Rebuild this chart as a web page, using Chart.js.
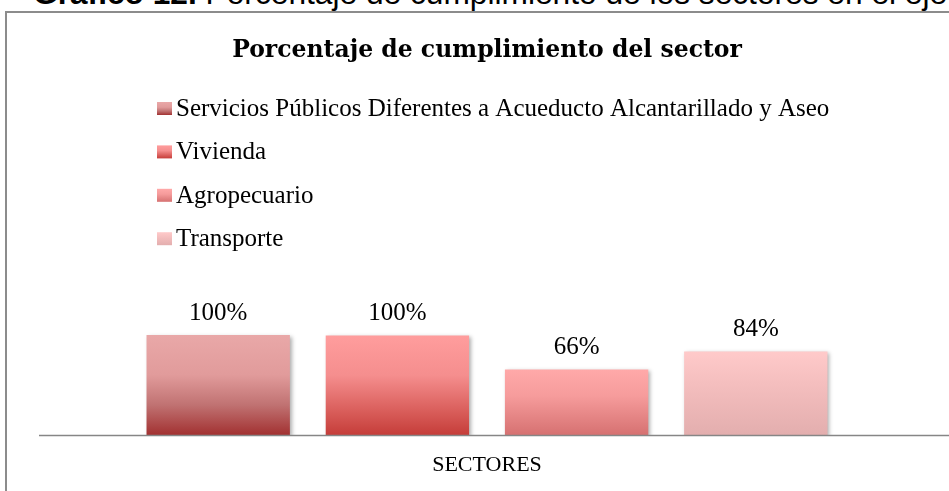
<!DOCTYPE html>
<html>
<head>
<meta charset="utf-8">
<script src="https://cdn.jsdelivr.net/npm/chart.js@4/dist/chart.umd.min.js"></script>
<style>
  html, body { margin: 0; padding: 0; background: #ffffff; }
  body { width: 949px; height: 491px; position: relative; overflow: hidden; }
  #caption { position: absolute; left: 33px; top: -22px; font-family: "Liberation Sans", Arial, sans-serif; font-size: 31.7px; line-height: 31px; color: #000; white-space: nowrap; }
  #caption b { font-weight: bold; }
  #frame { position: absolute; left: 5px; top: 11px; width: 1000px; height: 600px; border: 2px solid #8c8c8c; box-sizing: border-box; }
  #c { position: absolute; left: 0; top: 0; }
</style>
</head>
<body>
<div id="caption"><b>Gráfico 12.</b> Porcentaje de cumplimiento de los sectores en el eje</div>
<div id="frame"></div>
<canvas id="c" width="949" height="496"></canvas>
<script>
// ---- data ----
const categories = ['SECTORES'];
const seriesNames = [
  'Servicios Públicos Diferentes a Acueducto Alcantarillado y Aseo',
  'Vivienda',
  'Agropecuario',
  'Transporte'
];
const serviciosValues = [100];
const viviendaValues = [99.6];
const agropecuarioValues = [65.6];
const transporteValues = [83.6];
const chartTitle = 'Porcentaje de cumplimiento del sector';

// ---- styles ----
const gradientStops = [
  [[0, '#E9A8A8'], [0.4, '#E19B9B'], [0.7, '#C07272'], [1, '#A23131']],
  [[0, '#FF9D9D'], [0.4, '#F58E8E'], [0.75, '#DA5F5C'], [1, '#C53D39']],
  [[0, '#FFA9A9'], [0.4, '#F69C9C'], [1, '#D67171']],
  [[0, '#FFCACA'], [0.4, '#F4BEBE'], [1, '#E3AEAE']]
];
const serifFont = '"Liberation Serif", "Times New Roman", serif';

function makeGradient(ctx, stops, y0, y1) {
  const g = ctx.createLinearGradient(0, y0, 0, y1);
  stops.forEach(s => g.addColorStop(s[0], s[1]));
  return g;
}

function barFill(index) {
  return (context) => {
    const chart = context.chart;
    if (!chart.chartArea || !chart.scales.y) return gradientStops[index][0][1];
    const y = chart.scales.y;
    const top = y.getPixelForValue(context.raw);
    const bottom = y.getPixelForValue(0);
    return makeGradient(chart.ctx, gradientStops[index], top, bottom);
  };
}

const allValues = [serviciosValues, viviendaValues, agropecuarioValues, transporteValues];

const datasets = seriesNames.map((name, i) => ({
  label: name,
  data: allValues[i],
  backgroundColor: barFill(i),
  borderWidth: 0,
  categoryPercentage: 0.8,
  barPercentage: 0.8
}));

const decorPlugin = {
  id: 'decor',
  beforeDatasetsDraw(chart) {
    const ctx = chart.ctx;
    ctx.save();
    ctx.shadowColor = 'rgba(0,0,0,0.32)';
    ctx.shadowBlur = 4;
    ctx.shadowOffsetX = 2;
    ctx.shadowOffsetY = 2;
  },
  afterDatasetsDraw(chart) {
    const ctx = chart.ctx;
    ctx.restore();
    const area = chart.chartArea;
    // axis line
    ctx.save();
    ctx.strokeStyle = '#868686';
    ctx.lineWidth = 1.5;
    ctx.beginPath();
    ctx.moveTo(area.left, area.bottom + 0.5);
    ctx.lineTo(chart.width, area.bottom + 0.5);
    ctx.stroke();
    ctx.restore();
    // value labels
    ctx.save();
    ctx.font = '25px ' + serifFont;
    ctx.fillStyle = '#000';
    ctx.textAlign = 'center';
    ctx.textBaseline = 'alphabetic';
    chart.data.datasets.forEach((ds, di) => {
      const meta = chart.getDatasetMeta(di);
      meta.data.forEach((bar, j) => {
        const v = ds.data[j];
        ctx.fillText(Math.round(v) + '%', bar.x, bar.y - 15);
      });
    });
    ctx.restore();
  },
  afterDraw(chart) {
    // vertical legend
    const ctx = chart.ctx;
    ctx.save();
    ctx.font = '25px ' + serifFont;
    ctx.textAlign = 'left';
    ctx.textBaseline = 'alphabetic';
    const x0 = 157, firstBase = 116, step = 43.4;
    chart.data.datasets.forEach((ds, i) => {
      const base = firstBase + i * step;
      const bt = base - 14, bh = 13;
      ctx.fillStyle = makeGradient(ctx, gradientStops[i], bt, bt + bh);
      ctx.fillRect(x0, bt, 15, bh);
      ctx.fillStyle = '#000';
      ctx.fillText(ds.label, x0 + 19, base);
    });
    ctx.restore();
  }
};

new Chart(document.getElementById('c'), {
  type: 'bar',
  data: { labels: categories, datasets: datasets },
  options: {
    responsive: false,
    animation: false,
    devicePixelRatio: 1,
    layout: { padding: { left: 39, right: 14, top: 0, bottom: 0.6 } },
    plugins: {
      legend: { display: false },
      tooltip: { enabled: false },
      title: {
        display: true,
        text: chartTitle,
        color: '#000',
        font: { family: '"DejaVu Serif", serif', size: 23.5, weight: 'bold', lineHeight: 1.2 },
        padding: { top: 37, bottom: 69.8 }
      }
    },
    scales: {
      x: {
        grid: { display: false, drawTicks: false },
        border: { display: false },
        ticks: { color: '#000', font: { family: serifFont, size: 22, lineHeight: 1.2 }, padding: 17 }
      },
      y: { display: false, min: 0, max: 300 }
    }
  },
  plugins: [decorPlugin]
});
</script>
</body>
</html>
